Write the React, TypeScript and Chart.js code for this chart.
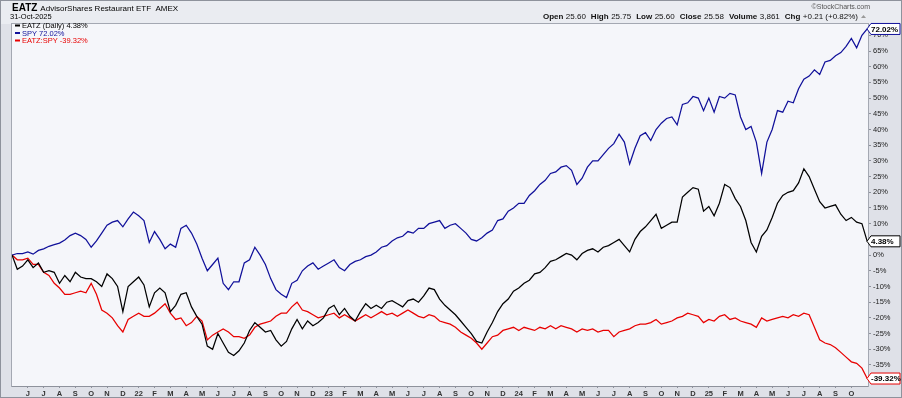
import React, { useEffect, useRef } from 'react';
import { Chart, registerables } from 'chart.js';

Chart.register(...registerables);

// x unit: months since 1 Jan 2021
const START_MONTH = 4.0;
const STEP_MONTH = 1 / 3;
const X_MIN = 4.0;
const X_MAX = 58.05;
const Y_MIN = -41.7;
const Y_MAX = 73.6;
const FIRST_TICK_MONTH = 5;
const LAST_TICK_MONTH = 57;
const MONTH_LETTERS = ['J', 'F', 'M', 'A', 'M', 'J', 'J', 'A', 'S', 'O', 'N', 'D'];

const SPY_PCT = [
  0, 0.5, 0.5, 1.0, 0.3, 1.5, 2.0, 2.8, 3.3, 3.8,
  4.8, 6.2, 7.0, 6.2, 5.0, 2.5, 4.5, 7.0, 9.5, 10.5,
  11, 9, 11.5, 13.7, 12.5, 11, 4, 7.5, 5, 2,
  3.5, 2.5, 8.5, 9.5, 7, 3.5, -1, -5, -3, -1,
  -9, -11, -8.5, -8.5, -2.5, -1.5, 2.5, 0, -3, -7.5,
  -11, -12.5, -13.5, -9, -8, -5, -3.5, -2.5, -4.5, -3.5,
  -2.5, -1.5, -4, -5, -3, -2, -1.5, -0.5, 0, 1,
  2.5, 3, 4.5, 5.5, 6, 7.5, 7, 8.5, 8.5, 10,
  10.5, 11, 8.5, 9.5, 10, 8.5, 7, 5, 4.5, 5.5,
  7, 8, 11, 11.5, 14, 15, 16.5, 16.5, 19, 20.5,
  22.5, 23.8, 26, 26.5, 28, 28.5, 27, 22.5, 24.5, 28,
  30, 30, 32, 34, 35.5, 38.5, 36, 29, 34, 38,
  39, 36.5, 40, 42, 43.5, 44, 41.5, 48, 48.5, 50.5,
  50, 46, 50, 45.5, 50.5, 50, 51.5, 51, 44, 40,
  41, 36, 26, 36, 40, 46, 45.5, 49, 48.5, 53,
  56, 57, 59, 57.5, 61.5, 62, 63.5, 64.5, 66.5, 69,
  66, 70, 72.02,
];

const EATZ_PCT = [
  0, -4.5, -3.5, -1.5, -4, -2.5, -5.5, -5, -5.5, -9,
  -6.5, -8.5, -5.5, -7, -7.5, -7.5, -8.5, -10, -6, -7.5,
  -10, -18, -10, -8.5, -7, -9.5, -16.5, -12, -10.5, -12,
  -18, -16, -12.5, -12, -16.5, -19.5, -22, -29, -30, -25,
  -28, -31, -32, -30.5, -28, -24, -21.5, -23, -24.5, -24,
  -27, -29, -27.5, -23.5, -20.5, -23.5, -21, -22.5, -21.5, -20,
  -17, -16, -19, -17, -19.5, -21, -18, -15.5, -17, -16,
  -17, -15, -14.5, -15.5, -16.5, -14.5, -14, -15, -13, -10.5,
  -11, -14, -16, -17.5, -19, -21, -23, -25, -27.5, -28,
  -24.5, -21.5, -18, -15.5, -14, -11.5, -10.5, -9, -8, -6,
  -5.5, -4, -2, -1.5, -0.5, 0.5, 0, -1.5, 0.5, 1.5,
  2, 1, 2.5, 3, 4, 5, 3, 1, 5, 7.5,
  9, 11, 13, 8.5, 9.5, 10.5, 10.5, 18.5, 20, 21.5,
  21, 14, 15.5, 12.5, 16.5, 22.5, 21.5, 18, 15.5, 11,
  4, 1, 6, 8, 12, 16.5, 19, 20, 20.5, 23,
  27.5, 25, 21, 17, 15, 15.5, 16, 13, 11, 12,
  10.5, 10, 4.38,
];

const RATIO_PCT = [
  0, -1.5, -1.5, -1, -3, -3, -5.5, -6.5, -9, -10.5,
  -12.5, -12.5, -12, -11.5, -12, -9, -12.5, -17.5, -18.5, -20,
  -22.5, -24.5, -20.5, -19.5, -18.5, -19.5, -19.5, -18.5, -17, -15.5,
  -18.5, -20.5, -20, -22.5, -21.5, -19.5, -21, -27, -25.5, -24.5,
  -23.5, -24.5, -26, -26, -26.5, -25.5, -23, -22, -21.5, -21,
  -19.5, -18.5, -18.5, -16.5, -15, -17.5, -18, -19, -20, -19.5,
  -19, -18.5, -20, -19, -20, -21, -20, -19, -20, -19,
  -18, -19, -18.5, -19.5, -18.5, -17.5, -18.5, -19.5, -20, -19,
  -19.5, -21, -21.5, -22, -23, -24.5, -25.5, -26.5, -28, -30,
  -28, -26, -25.5, -24, -23.5, -23, -24, -23, -23.5, -24,
  -23, -23.5, -22.5, -23.5, -22.5, -23, -23.5, -24.5, -23.5, -24,
  -23.5, -24.5, -24, -24, -26, -24.5, -24, -23.5, -22.5, -22,
  -22, -21.5, -20.5, -22, -21.5, -21, -20, -19.5, -18.5, -19,
  -19.5, -21.5, -20.5, -21, -19.5, -19, -20.5, -20, -21, -21.5,
  -22, -23, -20, -21, -20.5, -20, -19.5, -20, -19, -19.5,
  -18.5, -19, -23, -27, -28, -28.5, -29.5, -31, -32.5, -34,
  -34.5, -36, -39.32,
];

const SERIES_NAMES = ['EATZ (Daily)', 'SPY', 'EATZ:SPY'];
const SERIES_COLORS = ['#000000', '#10109a', '#e80000'];
const LAST_LABELS = ['4.38%', '72.02%', '-39.32%'];
const TITLE_SYMBOL = 'EATZ';
const TITLE_NAME = 'AdvisorShares Restaurant ETF  AMEX';
const DATE_LABEL = '31-Oct-2025';
const COPYRIGHT = '\u00A9StockCharts.com';
const QUOTE = [
  ['Open', '25.60'],
  ['High', '25.75'],
  ['Low', '25.60'],
  ['Close', '25.58'],
  ['Volume', '3,861'],
  ['Chg', '+0.21 (+0.82%)'],
];

const FONT = '"Liberation Sans", Arial, sans-serif';

function toPoints(values: number[]) {
  return values.map((v, i) => ({ x: START_MONTH + i * STEP_MONTH, y: v }));
}

const framePlugin = {
  id: 'frame',
  beforeDraw(chart: any) {
    const { ctx, chartArea: a, width, height } = chart;
    ctx.save();
    ctx.fillStyle = '#dfe1e8';
    ctx.fillRect(0, 0, width, height);
    ctx.fillStyle = '#eaecf1';
    ctx.fillRect(0, 0, width, a.top);
    ctx.fillStyle = '#f5f6fa';
    ctx.fillRect(a.left, a.top, a.right - a.left, a.bottom - a.top);
    ctx.strokeStyle = '#8e929c';
    ctx.lineWidth = 1;
    ctx.strokeRect(0.5, 0.5, width - 1, height - 1);
    ctx.strokeStyle = '#a4a8b2';
    ctx.strokeRect(a.left - 0.5, a.top - 0.5, a.right - a.left + 1, a.bottom - a.top + 1);
    ctx.restore();
  },
  afterDraw(chart: any) {
    const { ctx, chartArea: a, width } = chart;
    ctx.save();
    ctx.textBaseline = 'alphabetic';
    ctx.fillStyle = '#000';
    ctx.font = `bold 10px ${FONT}`;
    ctx.fillText(TITLE_SYMBOL, 12, 11);
    const w = ctx.measureText(TITLE_SYMBOL).width;
    ctx.font = `8px ${FONT}`;
    ctx.fillText(TITLE_NAME, 12 + w + 3, 11);
    ctx.font = `7.5px ${FONT}`;
    ctx.fillText(DATE_LABEL, 10, 19);
    ctx.fillStyle = '#555';
    ctx.font = `7px ${FONT}`;
    ctx.textAlign = 'right';
    ctx.fillText(COPYRIGHT, a.right + 2, 9);
    ctx.textAlign = 'left';
    let x = a.right - 2;
    ctx.fillStyle = '#999';
    ctx.beginPath();
    ctx.moveTo(x - 5, 18);
    ctx.lineTo(x, 18);
    ctx.lineTo(x - 2.5, 15);
    ctx.closePath();
    ctx.fill();
    x -= 8;
    for (let i = QUOTE.length - 1; i >= 0; i--) {
      const [label, value] = QUOTE[i];
      ctx.font = `8px ${FONT}`;
      const vw = ctx.measureText(value).width;
      x -= vw;
      ctx.fillStyle = '#111';
      ctx.fillText(value, x, 19);
      ctx.font = `bold 8px ${FONT}`;
      const lw = ctx.measureText(label).width;
      x -= lw + 2.5;
      ctx.fillText(label, x, 19);
      x -= 5;
    }
    ctx.font = `7.5px ${FONT}`;
    ctx.textBaseline = 'middle';
    const lasts = [EATZ_PCT, SPY_PCT, RATIO_PCT];
    for (let i = 0; i < 3; i++) {
      const y = a.top + 1.5 + i * 7.5;
      ctx.strokeStyle = SERIES_COLORS[i];
      ctx.lineWidth = 2;
      ctx.beginPath();
      ctx.moveTo(a.left + 3, y);
      ctx.lineTo(a.left + 8, y);
      ctx.stroke();
      ctx.fillStyle = SERIES_COLORS[i];
      ctx.fillText(`${SERIES_NAMES[i]} ${LAST_LABELS[i]}`, a.left + 10, y + 0.5);
    }
    const yScale = chart.scales.y;
    ctx.font = `bold 8px ${FONT}`;
    for (let i = 0; i < 3; i++) {
      const arr = lasts[i];
      const y = yScale.getPixelForValue(arr[arr.length - 1]);
      const x0 = a.right - 1;
      const x1 = width - 2;
      ctx.beginPath();
      ctx.moveTo(x0, y);
      ctx.lineTo(x0 + 4, y - 5.5);
      ctx.lineTo(x1, y - 5.5);
      ctx.lineTo(x1, y + 5.5);
      ctx.lineTo(x0 + 4, y + 5.5);
      ctx.closePath();
      ctx.fillStyle = '#fff';
      ctx.fill();
      ctx.strokeStyle = SERIES_COLORS[i];
      ctx.lineWidth = 1;
      ctx.stroke();
      ctx.fillStyle = '#000';
      ctx.textAlign = 'left';
      ctx.fillText(LAST_LABELS[i], x0 + 4, y + 0.5);
    }
    ctx.restore();
  },
};

export default function App() {
  const ref = useRef<HTMLCanvasElement | null>(null);
  useEffect(() => {
    document.body.style.margin = '0';
    const canvas = ref.current;
    if (!canvas) return;
    const tickMonths: number[] = [];
    for (let m = FIRST_TICK_MONTH; m <= LAST_TICK_MONTH; m++) tickMonths.push(m);
    const chart = new Chart(canvas, {
      type: 'line',
      data: {
        datasets: [
          { label: 'EATZ', data: toPoints(EATZ_PCT), borderColor: SERIES_COLORS[0], borderWidth: 1.25, pointRadius: 0, tension: 0 },
          { label: 'SPY', data: toPoints(SPY_PCT), borderColor: SERIES_COLORS[1], borderWidth: 1.25, pointRadius: 0, tension: 0 },
          { label: 'EATZ:SPY', data: toPoints(RATIO_PCT), borderColor: SERIES_COLORS[2], borderWidth: 1.25, pointRadius: 0, tension: 0 },
        ],
      },
      options: {
        responsive: false,
        animation: false,
        events: [],
        layout: { padding: { left: 12, top: 24, right: 0, bottom: 0 } },
        plugins: { legend: { display: false }, tooltip: { enabled: false }, title: { display: false } },
        scales: {
          x: {
            type: 'linear',
            min: X_MIN,
            max: X_MAX,
            afterBuildTicks: (s: any) => {
              s.ticks = tickMonths.map((m) => ({ value: m }));
            },
            afterFit: (s: any) => {
              s.height = 12;
            },
            ticks: {
              autoSkip: false,
              maxRotation: 0,
              padding: 1,
              color: '#333',
              font: { size: 7.5, family: FONT, weight: 'bold' },
              callback: (v: any) => {
                const m = Math.round(Number(v));
                if (m % 12 === 0) return String(21 + m / 12);
                return MONTH_LETTERS[m % 12];
              },
            },
            grid: { display: true, drawOnChartArea: false, drawTicks: true, tickLength: 2, color: '#8e929c' },
            border: { display: true, color: '#8e929c' },
          },
          y: {
            type: 'linear',
            position: 'right',
            min: Y_MIN,
            max: Y_MAX,
            afterFit: (s: any) => {
              s.width = 34;
            },
            ticks: {
              stepSize: 5,
              includeBounds: false,
              padding: 2,
              color: '#222',
              font: { size: 7.5, family: FONT },
              callback: (v: any) => `${v}%`,
            },
            grid: { display: true, drawOnChartArea: false, drawTicks: true, tickLength: 3, color: '#8e929c' },
            border: { display: true, color: '#a4a8b2' },
          },
        },
      },
      plugins: [framePlugin],
    });
    return () => chart.destroy();
  }, []);
  return (
    <div style={{ width: 902, height: 398 }}>
      <canvas ref={ref} width={902} height={398} style={{ display: 'block' }} />
    </div>
  );
}
